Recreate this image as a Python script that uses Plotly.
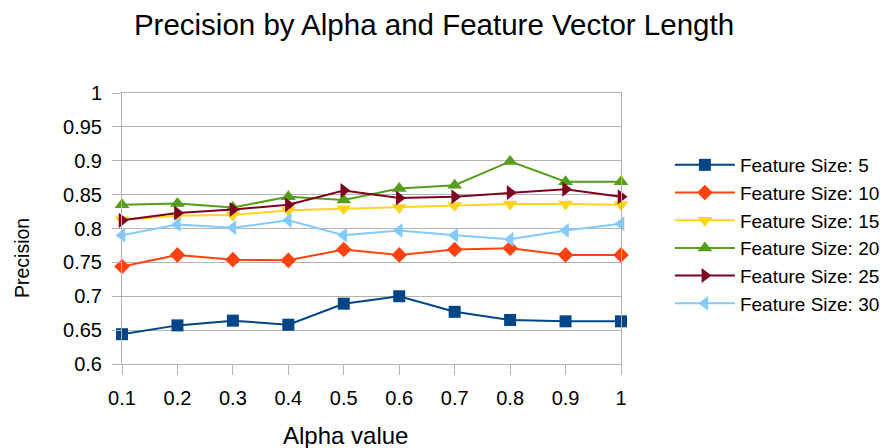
import plotly.graph_objects as go

alpha = [0.1, 0.2, 0.3, 0.4, 0.5, 0.6, 0.7, 0.8, 0.9, 1.0]
alpha_labels = ["0.1", "0.2", "0.3", "0.4", "0.5", "0.6", "0.7", "0.8", "0.9", "1"]
y_ticks = [0.6, 0.65, 0.7, 0.75, 0.8, 0.85, 0.9, 0.95, 1.0]
y_labels = ["0.6", "0.65", "0.7", "0.75", "0.8", "0.85", "0.9", "0.95", "1"]

fs5 = [0.644, 0.657, 0.664, 0.658, 0.689, 0.700, 0.677, 0.665, 0.663, 0.663]
fs10 = [0.744, 0.761, 0.754, 0.753, 0.769, 0.761, 0.769, 0.771, 0.761, 0.761]
fs15 = [0.813, 0.819, 0.820, 0.827, 0.829, 0.831, 0.834, 0.836, 0.836, 0.835]
fs20 = [0.835, 0.837, 0.831, 0.847, 0.842, 0.859, 0.864, 0.899, 0.869, 0.869]
fs25 = [0.812, 0.823, 0.828, 0.835, 0.856, 0.845, 0.847, 0.853, 0.858, 0.847]
fs30 = [0.790, 0.806, 0.801, 0.812, 0.790, 0.797, 0.790, 0.784, 0.797, 0.807]

names = ["Feature Size: 5", "Feature Size: 10", "Feature Size: 15",
         "Feature Size: 20", "Feature Size: 25", "Feature Size: 30"]
series = [fs5, fs10, fs15, fs20, fs25, fs30]
colors = ["#004586", "#ff420e", "#ffd320", "#579d1c", "#7e0021", "#83caff"]
symbols = ["square", "diamond", "triangle-down", "triangle-up", "triangle-right", "triangle-left"]
sizes = [12, 12, 13, 13, 13, 13]

fig = go.Figure()
for i, (n, s) in enumerate(zip(names, series)):
    fig.add_trace(go.Scatter(
        x=alpha, y=s, name=n, mode="lines+markers",
        line=dict(color=colors[i], width=2),
        marker=dict(symbol=symbols[i], size=sizes[i], color=colors[i]),
        cliponaxis=False, legendgroup=str(i),
    ))

font = "Liberation Sans, Arial, sans-serif"
fig.update_layout(
    width=880, height=448,
    margin=dict(l=122, r=259, t=93, b=84, autoexpand=False),
    paper_bgcolor="white", plot_bgcolor="white",
    font=dict(family=font, color="black", size=20),
    title=dict(text="Precision by Alpha and Feature Vector Length",
               x=434 / 880, xanchor="center", y=1 - 25 / 448, yanchor="middle",
               font=dict(size=29.5)),
    showlegend=True,
    legend=dict(x=1.098, xanchor="left", y=0.478, yanchor="middle",
                font=dict(size=19), tracegroupgap=0, itemwidth=60,
                bgcolor="rgba(0,0,0,0)"),
    annotations=[
        dict(text="Alpha value", xref="paper", yref="paper", x=0.447, y=-0.265,
             xanchor="center", yanchor="middle", showarrow=False, font=dict(size=24)),
        dict(text="Precision", xref="paper", yref="paper", x=-0.2004, y=0.391,
             xanchor="center", yanchor="middle", showarrow=False, textangle=-90,
             font=dict(size=19.5)),
    ],
)
fig.update_xaxes(
    range=[0.1, 1.0], tickvals=alpha, ticktext=alpha_labels, automargin=False,
    showgrid=False, zeroline=False, showline=True, linecolor="#b3b3b3", linewidth=1,
    mirror=True, ticks="outside", ticklen=10, tickcolor="#b3b3b3", ticklabelstandoff=6,
)
fig.update_yaxes(
    range=[0.6, 1.0], tickvals=y_ticks, ticktext=y_labels, automargin=False,
    showgrid=True, gridcolor="#b3b3b3", zeroline=False, showline=True,
    linecolor="#b3b3b3", linewidth=1, mirror=True,
    ticks="outside", ticklen=9, tickcolor="#b3b3b3", ticklabelstandoff=6,
)
fig.write_html("out.html", config={"displayModeBar": False},
               post_script="document.body.style.margin='0';")
